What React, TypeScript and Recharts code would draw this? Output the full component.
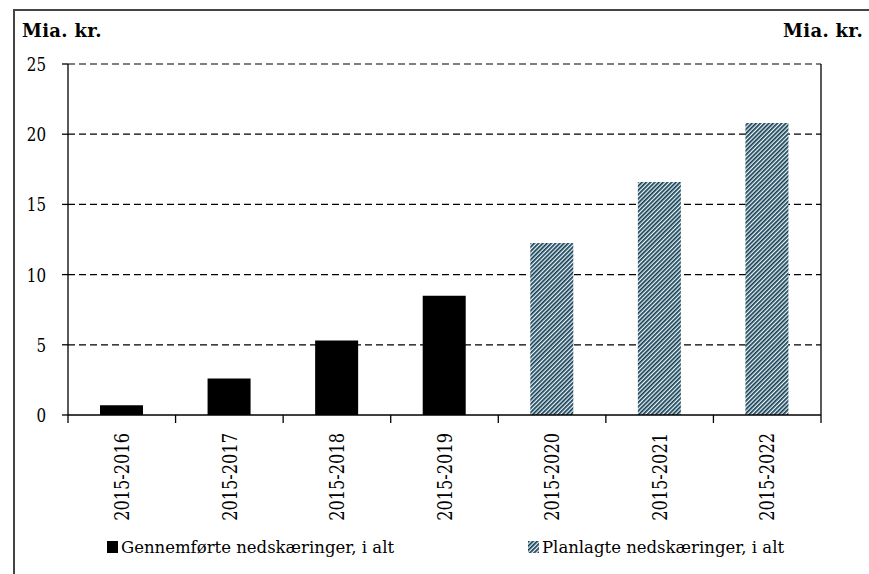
import React from 'react';
import { BarChart, Bar, XAxis, YAxis, CartesianGrid } from 'recharts';

const categories = ['2015-2016', '2015-2017', '2015-2018', '2015-2019', '2015-2020', '2015-2021', '2015-2022'];
const gennemforte = [0.7, 2.6, 5.3, 8.5, null, null, null];
const planlagte = [null, null, null, null, 12.25, 16.6, 20.8];
const yTicks = [0, 5, 10, 15, 20, 25];
const seriesNames = ['Gennemførte nedskæringer, i alt', 'Planlagte nedskæringer, i alt'];
const unitLabel = 'Mia. kr.';

const data = categories.map((c, i) => ({ cat: c, done: gennemforte[i], planned: planlagte[i] }));

const W = 869;
const H = 574;
const LEFT = 68;
const RIGHT_W = 48;
const TOP = 64;
const XAXIS_H = 159;
const BAND = (W - LEFT - RIGHT_W) / categories.length;
const FONT = "'DejaVu Serif', serif";
const NAVY = '#123f54';
const CX = 0.84;

const XTick = (props: any) => {
  const { x, y, payload, index } = props;
  const left = x - BAND / 2;
  const right = x + BAND / 2;
  const ly = y + 18;
  return (
    <g>
      <line x1={left} y1={y} x2={left} y2={y + 8} stroke="#000" strokeWidth={1.3} />
      {index === categories.length - 1 && (
        <line x1={right} y1={y} x2={right} y2={y + 8} stroke="#000" strokeWidth={1.3} />
      )}
      <text
        transform={`translate(${x}, ${ly}) rotate(-90) scale(0.81, 1)`}
        x={0}
        y={0}
        textAnchor="end"
        dominantBaseline="central"
        style={{ fontFamily: FONT }}
        fontSize={20}
        fill="#000"
      >
        {payload.value}
      </text>
    </g>
  );
};

const YTick = (props: any) => {
  const { x, y, payload, side } = props;
  return (
    <text
      transform={`translate(${x}, ${y + 1}) scale(${CX}, 1)`}
      x={0}
      y={0}
      textAnchor={side === 'right' ? 'start' : 'end'}
      dominantBaseline="central"
      style={{ fontFamily: FONT }}
      fontSize={18}
      fill="#000"
    >
      {payload.value}
    </text>
  );
};

const HatchDef = ({ id }: { id: string }) => (
  <pattern id={id} width="3" height="3" patternUnits="userSpaceOnUse" patternTransform="rotate(45)">
    <rect x="0" y="0" width="3" height="3" fill="#eef4f7" />
    <rect x="0" y="0" width="1.7" height="3" fill={NAVY} />
  </pattern>
);

export default function App() {
  return (
    <div style={{ position: 'absolute', left: 0, top: 0, width: W, height: H, background: '#fff', overflow: 'hidden' }}>
      <div
        style={{
          position: 'absolute',
          left: 13,
          top: 9,
          width: 900,
          height: 600,
          borderLeft: '2px solid #444',
          borderTop: '2px solid #444',
        }}
      />
      <div
        style={{
          position: 'absolute',
          left: 22,
          top: 19,
          fontFamily: FONT,
          fontWeight: 'bold',
          fontSize: 18,
          letterSpacing: 0.3,
          lineHeight: '24px',
          color: '#000',
        }}
      >
        {unitLabel}
      </div>
      <div
        style={{
          position: 'absolute',
          right: W - 863,
          top: 19,
          fontFamily: FONT,
          fontWeight: 'bold',
          fontSize: 18,
          letterSpacing: 0.3,
          lineHeight: '24px',
          color: '#000',
        }}
      >
        {unitLabel}
      </div>
      <div style={{ position: 'absolute', left: 0, top: 0 }}>
        <BarChart
          width={W}
          height={H}
          data={data}
          margin={{ top: TOP, right: 0, bottom: 0, left: 0 }}
          barSize={43}
        >
          <defs>
            <HatchDef id="hatch" />
          </defs>
          <CartesianGrid
            yAxisId="left"
            vertical={false}
            horizontalValues={[5, 10, 15, 20, 25]}
            stroke="#000"
            strokeDasharray="7 4"
            strokeWidth={1.2}
          />
          <XAxis
            dataKey="cat"
            height={XAXIS_H}
            interval={0}
            tickLine={false}
            tickSize={0}
            tickMargin={0}
            axisLine={{ stroke: '#000', strokeWidth: 1.3 }}
            tick={<XTick />}
          />
          <YAxis
            yAxisId="left"
            orientation="left"
            width={LEFT}
            domain={[0, 25]}
            ticks={yTicks}
            interval={0}
            tickSize={6}
            tickMargin={16}
            axisLine={{ stroke: '#000', strokeWidth: 1.3 }}
            tickLine={{ stroke: '#000', strokeWidth: 1.3 }}
            tick={<YTick side="left" />}
          />
          <YAxis
            yAxisId="right"
            orientation="right"
            width={RIGHT_W}
            domain={[0, 25]}
            ticks={yTicks}
            interval={0}
            tickSize={6}
            tickMargin={16}
            axisLine={{ stroke: '#000', strokeWidth: 1.3 }}
            tickLine={{ stroke: '#000', strokeWidth: 1.3 }}
            tick={<YTick side="right" />}
          />
          <Bar yAxisId="left" dataKey="done" name={seriesNames[0]} stackId="s" fill="#000" isAnimationActive={false} />
          <Bar yAxisId="left" dataKey="planned" name={seriesNames[1]} stackId="s" fill="url(#hatch)" isAnimationActive={false} />
        </BarChart>
      </div>
      <svg style={{ position: 'absolute', left: 0, top: 530 }} width={W} height={32}>
        <defs>
          <HatchDef id="hatchLegend" />
        </defs>
        <rect x={107} y={11} width={11} height={12} fill="#000" />
        <text x={121} y={23} style={{ fontFamily: FONT }} fontSize={16.5} fill="#000">
          {seriesNames[0]}
        </text>
        <rect x={528} y={11} width={11} height={12} fill="url(#hatchLegend)" />
        <text x={542} y={23} style={{ fontFamily: FONT }} fontSize={16.5} fill="#000">
          {seriesNames[1]}
        </text>
      </svg>
    </div>
  );
}
